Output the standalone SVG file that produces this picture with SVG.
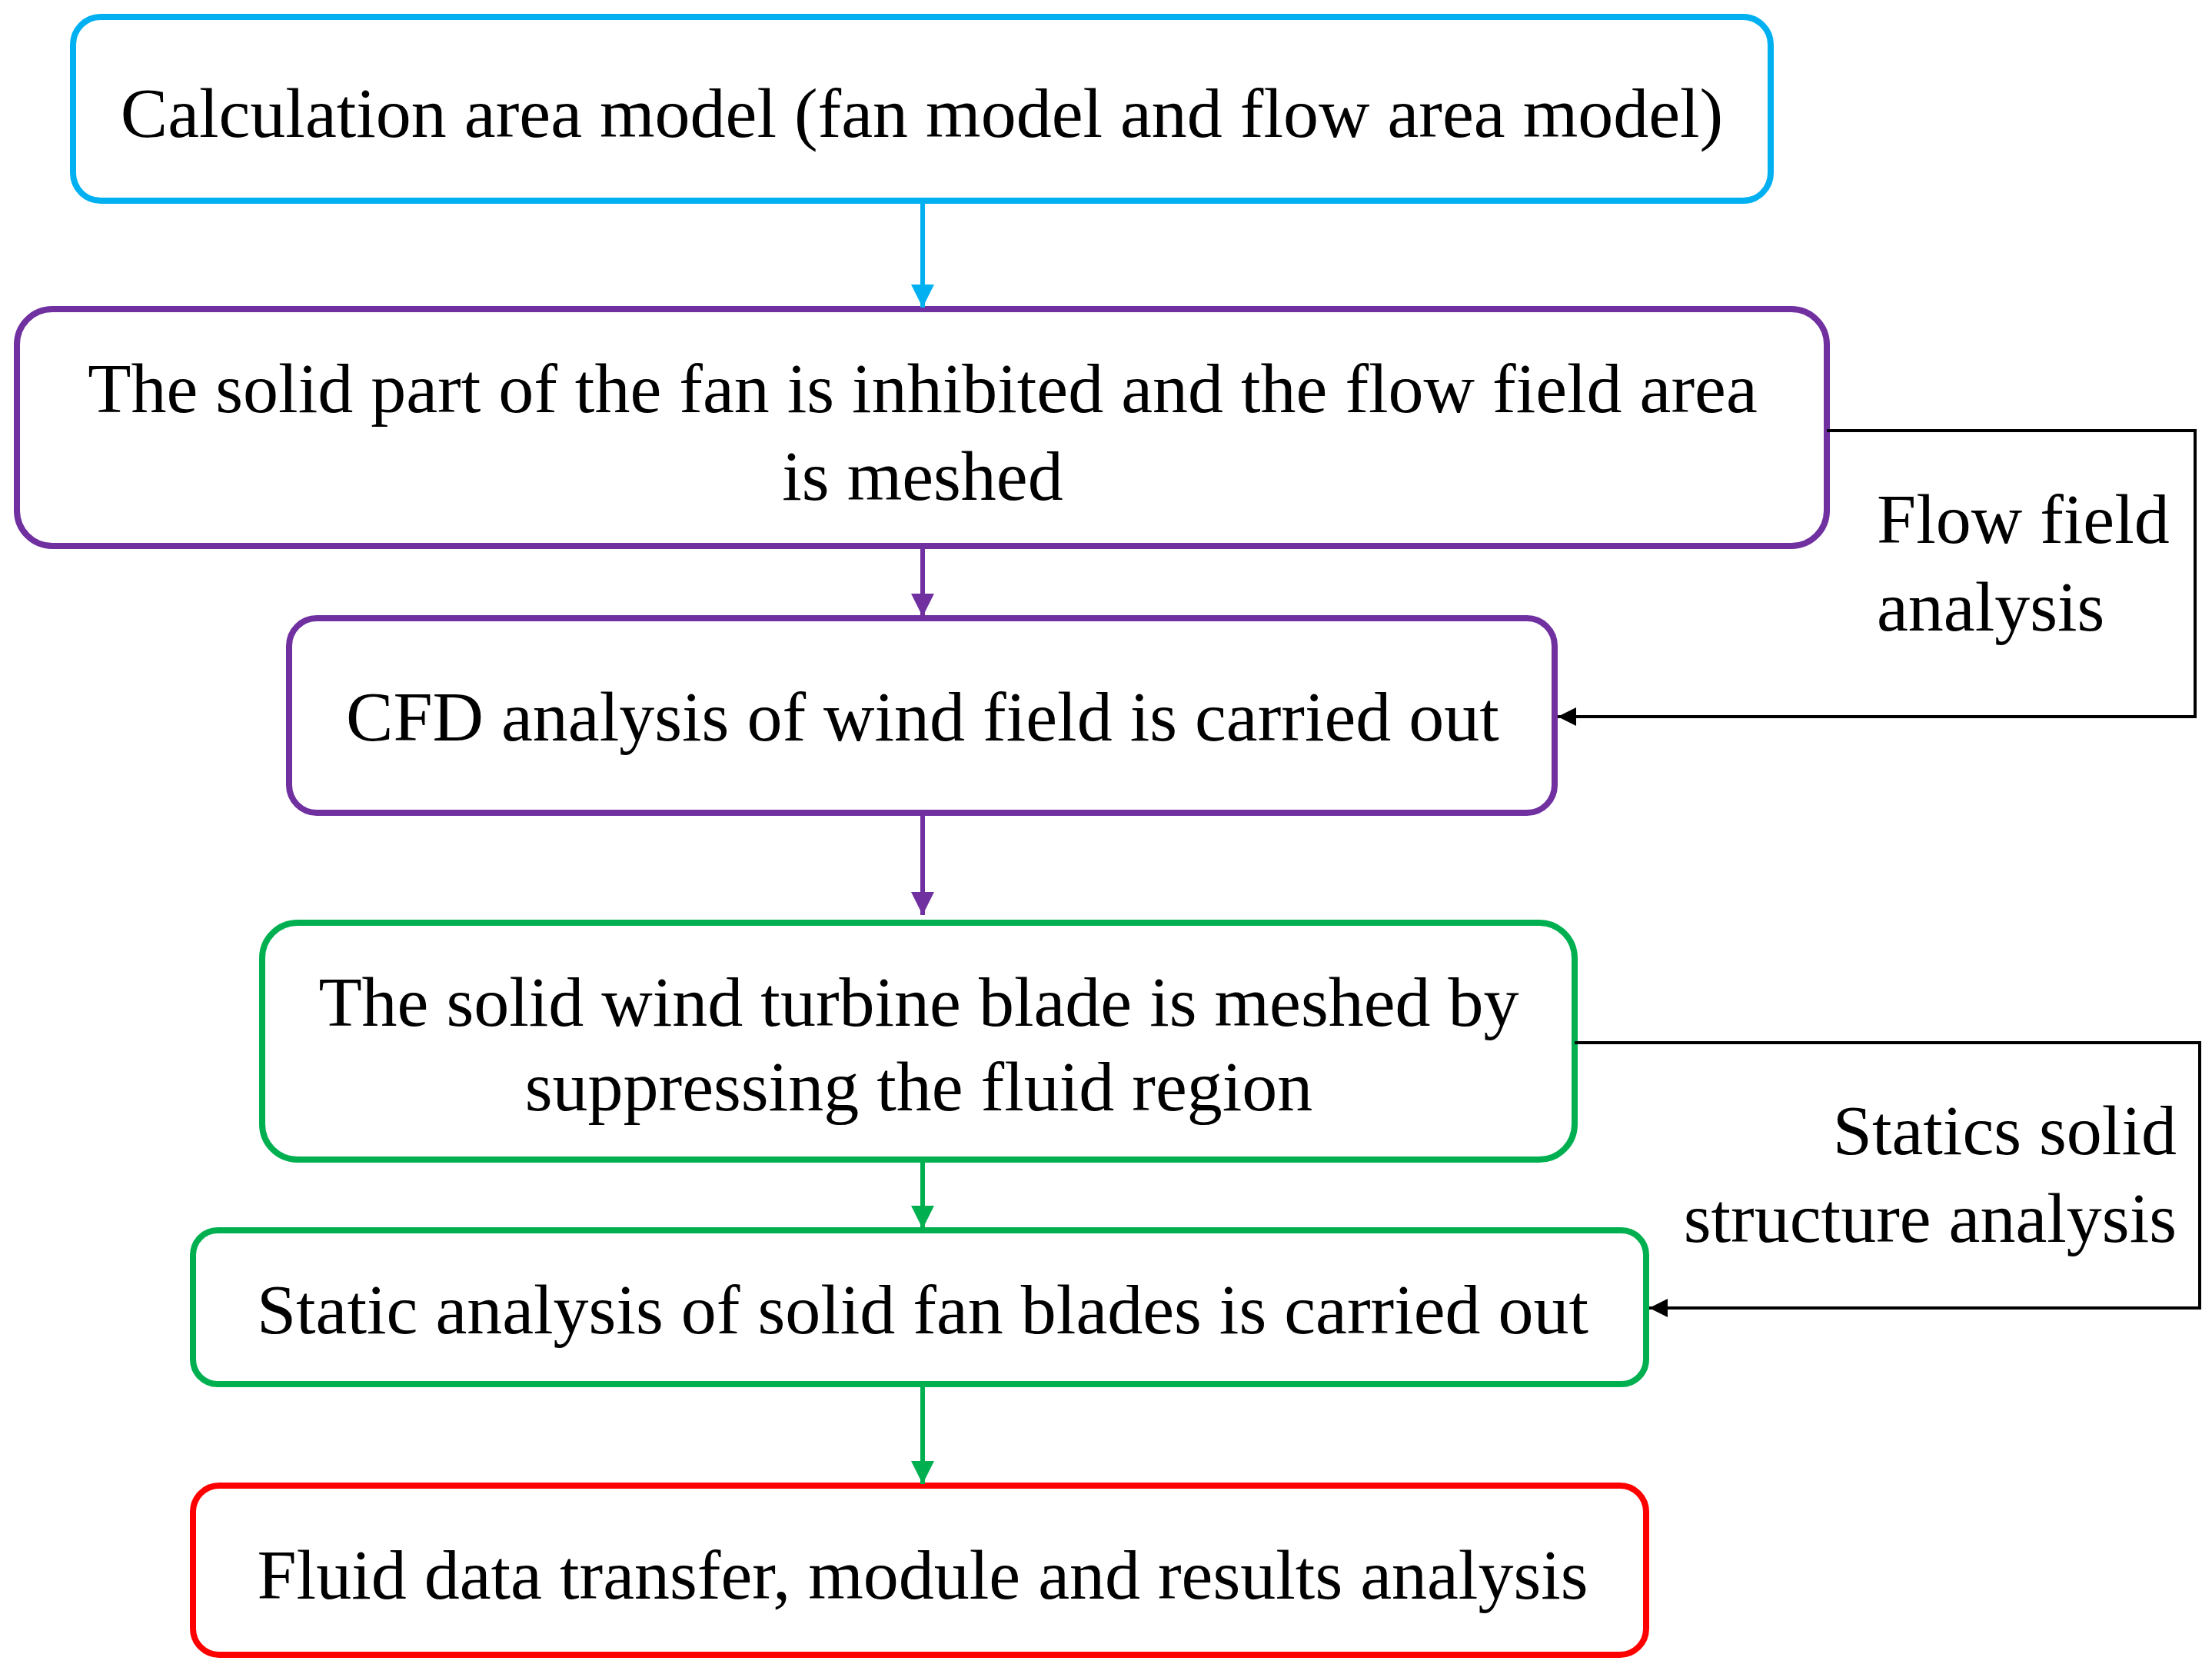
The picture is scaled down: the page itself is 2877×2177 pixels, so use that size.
<svg xmlns="http://www.w3.org/2000/svg" width="2877" height="2177" viewBox="0 0 2877 2177">
<defs>
<style>
text{font-family:"Liberation Serif","Times New Roman",serif;font-size:92px;fill:#000}
.c{text-anchor:middle}
.box{fill:#fff;stroke-width:8}
.ln{fill:none;stroke-width:6}
</style>
<marker id="ab" viewBox="0 0 10 10" refX="10" refY="5" markerWidth="5" markerHeight="5" orient="auto"><path d="M0,0L10,5L0,10z" fill="#00b0f0"/></marker>
<marker id="ap" viewBox="0 0 10 10" refX="10" refY="5" markerWidth="5" markerHeight="5" orient="auto"><path d="M0,0L10,5L0,10z" fill="#7030a0"/></marker>
<marker id="ag" viewBox="0 0 10 10" refX="10" refY="5" markerWidth="5" markerHeight="5" orient="auto"><path d="M0,0L10,5L0,10z" fill="#00b050"/></marker>
<marker id="ak" viewBox="0 0 10 10" refX="10" refY="5" markerWidth="6" markerHeight="6" orient="auto"><path d="M0,0L10,5L0,10z" fill="#000"/></marker>
</defs>
<rect width="2877" height="2177" fill="#fff"/>
<g id="n1"><rect class="box" x="95" y="22" width="2208" height="239" rx="36" stroke="#00b0f0"/><text class="c" x="1199" y="178">Calculation area model (fan model and flow area model)</text></g>
<g id="n2"><rect class="box" x="22" y="402" width="2354" height="308" rx="46" stroke="#7030a0"/><text class="c" x="1200" y="536">The solid part of the fan is inhibited and the flow field area</text><text class="c" x="1200" y="650">is meshed</text></g>
<g id="n3"><rect class="box" x="376" y="804" width="1646" height="253" rx="36" stroke="#7030a0"/><text class="c" x="1200" y="963">CFD analysis of wind field is carried out</text></g>
<g id="n4"><rect class="box" x="341" y="1200" width="1707" height="308" rx="46" stroke="#00b050"/><text class="c" x="1195" y="1334">The solid wind turbine blade is meshed by</text><text class="c" x="1195" y="1444">suppressing the fluid region</text></g>
<g id="n5"><rect class="box" x="251" y="1600" width="1890" height="200" rx="32" stroke="#00b050"/><text class="c" x="1200" y="1734">Static analysis of solid fan blades is carried out</text></g>
<g id="n6"><rect class="box" x="251" y="1932" width="1890" height="220" rx="34" stroke="#ff0000"/><text class="c" x="1200" y="2079">Fluid data transfer, module and results analysis</text></g>
<g id="labels">
<text x="2441" y="706">Flow field</text><text x="2441" y="820">analysis</text>
<text x="2831" y="1501" text-anchor="end">Statics solid</text><text x="2831" y="1615" text-anchor="end">structure analysis</text>
</g>
<g id="connectors">
<path class="ln" stroke="#00b0f0" d="M1200,261V400" marker-end="url(#ab)"/>
<path class="ln" stroke="#7030a0" d="M1200,710V802" marker-end="url(#ap)"/>
<path class="ln" stroke="#7030a0" d="M1200,1057V1190" marker-end="url(#ap)"/>
<path class="ln" stroke="#00b050" d="M1200,1508V1598" marker-end="url(#ag)"/>
<path class="ln" stroke="#00b050" d="M1200,1800V1930" marker-end="url(#ag)"/>
<path fill="none" stroke="#000" stroke-width="4" d="M2376,560H2855V932H2026" marker-end="url(#ak)"/>
<path fill="none" stroke="#000" stroke-width="4" d="M2048,1356H2861V1701H2145" marker-end="url(#ak)"/>
</g>
</svg>
